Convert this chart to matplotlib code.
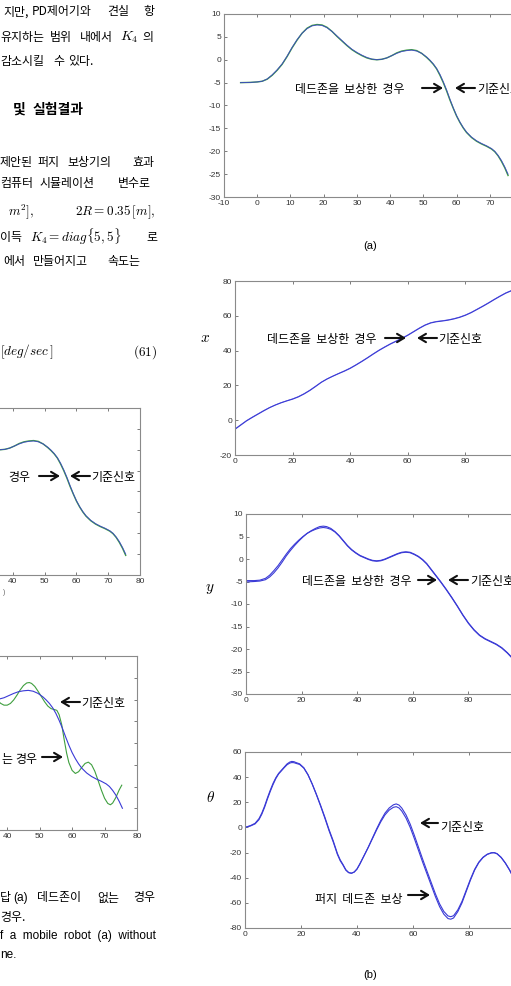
import numpy as np
import matplotlib
matplotlib.use("Agg")
import matplotlib.pyplot as plt

W, H = 511, 986

# trajectory y vs x (panel a): reference and deadzone-compensated
traj_x = [-5, -2, 0, 1.5, 3, 4.5, 6, 7.5, 9, 10.5, 12, 13.5, 15, 16.5, 18, 19.5, 21,
          22.5, 24, 25.5, 27, 28.5, 30, 31.5, 33, 34.5, 36, 37.5, 39, 40.5, 42, 43.5,
          45, 46.5, 48, 49.5, 51, 52, 53, 54, 55, 56, 57, 58, 59, 60, 61, 62, 63, 64.5,
          66, 67.5, 69, 70.5, 71.5, 72.5, 73.5, 74.5, 75.5]
traj_ref = [-5.0, -4.95, -4.85, -4.7, -4.2, -3.3, -2.2, -0.9, 0.8, 2.7, 4.4, 5.8, 6.8,
            7.4, 7.6, 7.5, 7.0, 6.2, 5.2, 4.2, 3.2, 2.3, 1.6, 1.0, 0.5, 0.15, 0.0, 0.1,
            0.4, 0.9, 1.4, 1.8, 2.0, 2.1, 1.9, 1.4, 0.6, -0.1, -0.9, -1.9, -3.2, -4.8,
            -6.6, -8.6, -10.5, -12.2, -13.6, -14.8, -15.8, -16.9, -17.7, -18.3, -18.8,
            -19.4, -20.0, -20.9, -22.0, -23.4, -25.0]
traj_comp = [-5.0, -4.95, -4.85, -4.7, -4.25, -3.4, -2.3, -1.0, 0.7, 2.6, 4.3, 5.8,
             6.9, 7.5, 7.7, 7.6, 7.1, 6.2, 5.1, 4.1, 3.1, 2.2, 1.5, 0.9, 0.4, 0.1, 0.0,
             0.1, 0.4, 0.9, 1.5, 1.9, 2.1, 2.2, 2.0, 1.4, 0.5, -0.2, -1.0, -2.0, -3.4,
             -5.0, -6.8, -8.8, -10.6, -12.3, -13.7, -14.9, -15.9, -17.0, -17.8, -18.4,
             -18.9, -19.5, -20.1, -21.0, -22.2, -23.6, -25.3]

# trajectory without deadzone compensation (left panel)
nocomp_x = [35, 36, 37, 38, 39, 40, 41, 42, 43, 44, 45, 46, 46.8, 47.5, 48.5, 49.5,
            50.5, 51.5, 52.5, 53.5, 54.5, 55.3, 56, 56.8, 57.5, 58.3, 59, 60, 61, 62,
            63, 64, 65, 66, 67, 68, 69, 70, 71, 71.8, 72.5, 73.5, 74.5, 75.3]
nocomp_y = [1.2, 0.6, -0.2, -0.9, -1.3, -1.3, -0.9, -0.1, 1.0, 2.2, 3.2, 3.8, 3.9, 3.7,
            3.0, 1.9, 0.7, -0.5, -1.5, -2.1, -2.3, -2.5, -3.5, -5.8, -9.0, -12.3,
            -14.5, -16.3, -17.0, -16.6, -15.6, -14.7, -14.4, -15.0, -16.5, -18.6,
            -20.8, -22.7, -23.9, -24.2, -23.8, -22.5, -20.8, -19.7]

# x(t)
time_x = [0, 2, 4, 6, 8, 10, 12, 14, 16, 18, 20, 22, 24, 26, 28, 30, 32, 34, 36, 38,
          40, 42, 44, 46, 48, 50, 52, 54, 56, 58, 60, 62, 64, 66, 68, 70, 72, 74, 76,
          78, 80, 82, 84, 86, 88, 90, 92, 94, 96, 98]
pos_x_ref = [-5.2, -2.8, -0.4, 1.6, 3.5, 5.4, 7.2, 8.7, 10.0, 11.1, 12.1, 13.4, 15.1,
             17.1, 19.4, 21.8, 23.7, 25.3, 26.8, 28.2, 29.8, 31.7, 33.7, 35.8, 38.0,
             40.1, 42.0, 43.8, 45.4, 47.0, 48.8, 50.8, 52.8, 54.6, 55.9, 56.6, 57.0,
             57.5, 58.2, 59.1, 60.3, 61.8, 63.6, 65.4, 67.3, 69.3, 71.2, 73.0, 74.4,
             75.5]
pos_x_comp = [-5.0, -2.6, -0.2, 1.8, 3.7, 5.6, 7.3, 8.8, 10.1, 11.2, 12.3, 13.6, 15.3,
              17.3, 19.6, 21.9, 23.8, 25.4, 26.9, 28.4, 30.0, 31.9, 33.9, 36.0, 38.2,
              40.3, 42.2, 44.0, 45.6, 47.2, 49.0, 51.0, 53.0, 54.8, 56.1, 56.8, 57.2,
              57.7, 58.4, 59.3, 60.5, 62.0, 63.8, 65.6, 67.5, 69.5, 71.4, 73.2, 74.6,
              75.7]

# y(t)
time_y = [0, 3, 5, 7, 8.5, 10, 11.5, 13, 14.5, 16, 17.5, 19, 20.5, 22, 23.5, 25, 26.5,
          27.8, 29, 30.5, 32, 33.5, 35, 36.5, 38, 39.5, 41, 42.5, 44, 45.5, 47, 48.5,
          50, 51.5, 53, 54.5, 56, 57.5, 59, 60.5, 62, 63.5, 65, 66.5, 68, 70, 72, 74,
          76, 78, 80, 82, 84, 86, 88, 90, 92, 94, 96, 98]
pos_y_ref = [-5.1, -5.0, -4.9, -4.6, -4.0, -3.1, -2.0, -0.7, 0.7, 1.9, 3.0, 4.0, 4.9,
             5.7, 6.3, 6.8, 7.2, 7.3, 7.2, 6.8, 6.1, 5.2, 4.1, 3.0, 2.1, 1.4, 0.8, 0.4,
             0.0, -0.3, -0.4, -0.3, 0.0, 0.4, 0.8, 1.2, 1.5, 1.6, 1.5, 1.1, 0.6, -0.1,
             -1.0, -2.2, -3.4, -5.0, -6.7, -8.5, -10.4, -12.4, -14.2, -15.7, -16.9,
             -17.7, -18.3, -18.9, -19.7, -20.8, -22.1, -23.4]
pos_y_comp = [-4.8, -4.8, -4.7, -4.3, -3.6, -2.6, -1.5, -0.2, 1.1, 2.3, 3.3, 4.2, 5.0,
              5.7, 6.2, 6.6, 6.9, 7.0, 6.9, 6.6, 6.0, 5.1, 4.0, 2.9, 2.0, 1.3, 0.7, 0.3,
              -0.1, -0.4, -0.5, -0.4, -0.1, 0.3, 0.7, 1.1, 1.4, 1.5, 1.4, 1.0, 0.5,
              -0.2, -1.1, -2.3, -3.5, -5.1, -6.8, -8.6, -10.5, -12.5, -14.3, -15.8,
              -17.0, -17.8, -18.4, -19.0, -19.8, -20.9, -22.2, -23.5]

# theta(t)
time_th = [0, 2, 3.6, 5, 6, 7, 8, 9, 10, 11, 12, 13, 14, 15, 16, 16.7, 17.5, 18, 19.5,
           21, 22.5, 24, 25.5, 27, 28.5, 30, 31.5, 33, 34, 35, 36, 37, 38, 39, 40, 41,
           42.5, 44, 45.5, 47, 48.5, 50, 51.5, 53, 54, 55, 56, 57.5, 59, 60.5, 62, 63.5,
           65, 66.5, 68, 69.5, 71, 72.5, 73.5, 74.5, 76, 77.5, 79, 80.5, 82, 83.5, 85,
           86.5, 88, 89, 90, 91.5, 93, 94.5, 96, 98]
theta_ref = [0, 1.5, 3.3, 7, 11.4, 17, 23.5, 29.5, 35, 39.5, 43, 45.5, 48, 50.5, 52,
             52.5, 52.3, 51.8, 50.6, 47.5, 42, 34.5, 26, 17, 7.5, -2.5, -11.5, -21.5,
             -26.5, -30, -34, -36, -36.5, -35.5, -33, -29, -22.5, -16, -9, -2, 4.5, 10,
             13.8, 16, 16.5, 15.5, 13, 7.5, 0, -9, -18.5, -28, -37, -46, -55, -63, -69,
             -72.5, -73, -72, -67, -60, -51, -42, -34, -28, -24, -21.5, -20.3, -20.2,
             -21, -24, -28.5, -34, -40.5, -47]
theta_comp = [0, 1.2, 2.8, 6.2, 10.5, 16, 22.5, 28.5, 34, 38.8, 42.5, 45, 47.5, 49.8,
              51.2, 51.6, 51.5, 51.1, 50.1, 47.2, 41.8, 34.6, 26.4, 17.6, 8.3, -1.6,
              -10.6, -20.7, -25.8, -29.5, -33.6, -35.8, -36.4, -35.5, -33.2, -29.3,
              -22.6, -15.8, -8.5, -1.2, 5.6, 11.4, 15.5, 18.0, 18.7, 17.8, 15.4, 10.0,
              2.6, -6.4, -16.0, -25.6, -34.8, -43.8, -52.8, -60.8, -66.8, -70.4, -71.0,
              -70.2, -65.6, -58.8, -50.0, -41.2, -33.4, -27.6, -23.7, -21.3, -20.1,
              -20.0, -20.8, -23.8, -28.3, -33.8, -40.3, -46.8]

plt.rcParams["font.family"] = ["Noto Sans CJK KR", "DejaVu Sans"]
plt.rcParams["mathtext.fontset"] = "cm"
plt.rcParams["axes.unicode_minus"] = False

BLUE = "#3a3ad6"
GREEN = "#3f9f3f"
FS = 8.6

fig = plt.figure(figsize=(W / 100, H / 100), dpi=100)


def fpx(x, y):
    return (x / W, 1 - y / H)


def put(x, y, s, size=FS, **kw):
    fx, fy = fpx(x, y)
    fig.text(fx, fy, s, fontsize=size, va="center", ha=kw.pop("ha", "left"), **kw)


def arrow(ax, x0, y0, x1, y1):
    ax.annotate("", xy=fpx(x1, y1), xytext=fpx(x0, y0),
                xycoords="figure fraction", textcoords="figure fraction",
                arrowprops=dict(arrowstyle="->,head_length=0.5,head_width=0.3",
                                lw=1.5, color="#111111", shrinkA=0, shrinkB=0))


def px_axes(left, top, right, bottom):
    return fig.add_axes([left / W, 1 - bottom / H, (right - left) / W, (bottom - top) / H])


def style(ax, xlim, ylim, xticks, yticks, xshow=None, ylabels=True):
    ax.set_xlim(xlim)
    ax.set_ylim(ylim)
    ax.set_xticks(xticks)
    ax.set_yticks(yticks)
    # only label the ticks that fall inside the page
    ax.set_xticklabels([str(t) if xshow is None or t in xshow else "" for t in xticks])
    ax.tick_params(direction="in", length=2.5, width=0.6, top=True, right=True,
                   labelsize=6, color="#666666", labelcolor="#333333", pad=2,
                   labelleft=ylabels)
    for lab in ax.get_xticklabels() + ax.get_yticklabels():
        lab.set_fontfamily("Liberation Sans")
    for s in ax.spines.values():
        s.set_color("#8a8a8a")
        s.set_linewidth(0.8)


# ---- left column text ----
put(3, 12, "지만,")
put(32, 12, "PD제어기와")
put(107, 12, "견실")
put(143, 12, "항")
put(0, 37, "유지하는")
put(50, 37, "범위")
put(80, 37, "내에서")
put(120, 37, r"$K_4$", size=10)
put(142, 37, "의")
put(0, 62, "감소시킬")
put(53, 62, "수")
put(68, 62, "있다.")
put(13, 110, "및", size=10, fontweight="bold")
put(33, 110, "실험결과", size=10, fontweight="bold")
put(0, 162, "제안된")
put(37, 162, "퍼지")
put(67, 162, "보상기의")
put(132, 162, "효과")
put(0, 183, "컴퓨터")
put(40, 183, "시뮬레이션")
put(118, 183, "변수로")
put(8, 212, r"$m^2],$", size=9.5)
put(75, 212, r"$2R = 0.35\,[m],$", size=9.5)
put(0, 237, "이득")
put(30, 237, r"$K_4 = diag\{5,5\}$", size=9.5)
put(146, 237, "로")
put(3, 262, "에서")
put(33, 262, "만들어지고")
put(107, 262, "속도는")
put(0, 352, r"$[deg/sec\,]$", size=9.5)
put(133, 352, r"$\mathrm{(61)}$", size=9.5)

# caption
put(0, 898, "답")
put(13, 898, "(a)", family="Liberation Sans")
put(37, 898, "데드존이")
put(97, 898, "없는")
put(133, 898, "경우")
put(0, 917, "경우.")
put(0, 936, "f  a  mobile  robot  (a)  without", size=8.5, family="Liberation Sans")
put(0, 955, "ne.", size=8.5, family="Liberation Sans")
put(3, 592, ")", size=5, color="#666666", family="Liberation Sans")

# ---- left plot: with compensation ----
ax1 = px_axes(-146, 408, 140, 575)
ax1.plot(traj_x, traj_comp, color=GREEN, lw=1.0)
ax1.plot(traj_x, traj_ref, color=BLUE, lw=0.7, alpha=0.8)
style(ax1, (-10, 80), (-30, 10), range(-10, 81, 10), range(-30, 11, 5),
      xshow=range(40, 81, 10), ylabels=False)
put(8, 478, "경우")
arrow(ax1, 39, 476, 60, 476)
arrow(ax1, 90, 476, 70, 476)
put(91, 478, "기준신호")

# ---- left plot: without compensation ----
ax2 = px_axes(-155, 656, 137, 830)
ax2.plot(nocomp_x, nocomp_y, color=GREEN, lw=0.8)
ax2.plot(traj_x, traj_ref, color=BLUE, lw=0.8)
style(ax2, (-10, 80), (-30, 10), range(-10, 81, 10), range(-30, 11, 5),
      xshow=range(40, 81, 10), ylabels=False)
arrow(ax2, 80, 702, 60, 702)
put(81, 704, "기준신호")
put(1, 760, "는")
put(15, 760, "경우")
arrow(ax2, 42, 757, 63, 757)

# ---- right (a) ----
ax3 = px_axes(224, 14, 523, 197)
ax3.plot(traj_x, traj_comp, color=GREEN, lw=1.0)
ax3.plot(traj_x, traj_ref, color=BLUE, lw=0.7, alpha=0.8)
style(ax3, (-10, 80), (-30, 10), range(-10, 81, 10), range(-30, 11, 5),
      xshow=range(-10, 71, 10))
put(295, 90, "데드존을  보상한  경우")
arrow(ax3, 422, 88, 443, 88)
arrow(ax3, 475, 88, 455, 88)
put(477, 90, "기준신호")
put(370, 246, "(a)", size=8, ha="center", family="Liberation Sans")

# ---- right x(t) ----
ax4 = px_axes(235, 281, 523, 455)
ax4.plot(time_x, pos_x_ref, color=BLUE, lw=0.8)
ax4.plot(time_x, pos_x_comp, color=BLUE, lw=0.6, alpha=0.7)
style(ax4, (0, 100), (-20, 80), range(0, 101, 20), range(-20, 81, 20),
      xshow=range(0, 81, 20))
put(205, 338, r"$x$", size=11, ha="center")
put(267, 340, "데드존을  보상한  경우")
arrow(ax4, 385, 338, 406, 338)
arrow(ax4, 437, 338, 417, 338)
put(438, 340, "기준신호")

# ---- right y(t) ----
ax5 = px_axes(246, 514, 524, 694)
ax5.plot(time_y, pos_y_ref, color=BLUE, lw=0.8)
ax5.plot(time_y, pos_y_comp, color=BLUE, lw=0.8)
style(ax5, (0, 100), (-30, 10), range(0, 101, 20), range(-30, 11, 5),
      xshow=range(0, 81, 20))
put(210, 587, r"$y$", size=11, ha="center")
put(302, 582, "데드존을  보상한  경우")
arrow(ax5, 418, 580, 437, 580)
arrow(ax5, 468, 580, 448, 580)
put(470, 582, "기준신호")

# ---- right theta(t) ----
ax6 = px_axes(245, 752, 525, 928)
ax6.plot(time_th, theta_ref, color=BLUE, lw=0.8)
ax6.plot(time_th, theta_comp, color=BLUE, lw=0.8)
style(ax6, (0, 100), (-80, 60), range(0, 101, 20), range(-80, 61, 20),
      xshow=range(0, 81, 20))
put(210, 797, r"$\theta$", size=11, ha="center")
arrow(ax6, 438, 823, 420, 823)
put(440, 827, "기준신호")
put(315, 900, "퍼지  데드존  보상")
arrow(ax6, 408, 895, 430, 895)
put(370, 975, "(b)", size=8, ha="center", family="Liberation Sans")

fig.savefig("out.png", dpi=100)
